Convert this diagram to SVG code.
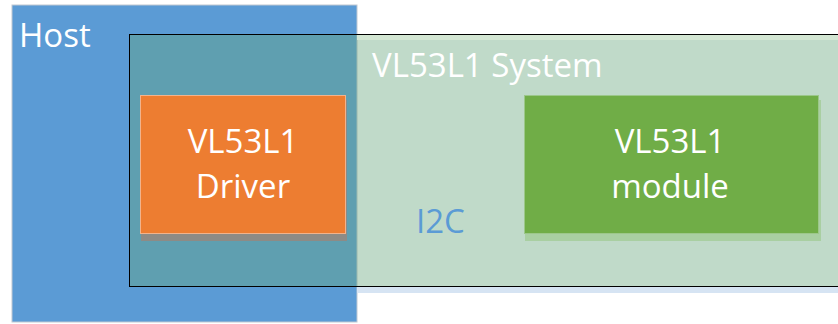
<svg xmlns="http://www.w3.org/2000/svg" width="838" height="324" viewBox="0 0 838 324">
<style>
.t{font-family:"Open Sans","Liberation Sans",sans-serif;fill:#fff}
.c{text-anchor:middle;font-size:33px}
</style>
<rect width="838" height="324" fill="#fff"/>
<g id="host">
<rect x="12" y="5" width="345" height="317" fill="#5B9BD5" stroke="#BFC8D2" stroke-width="1"/>
<text class="t" x="19" y="47" font-size="33">Host</text>
</g>
<g id="system">
<rect x="357" y="287" width="481" height="6" fill="#D6E4F3"/>
<rect x="129.5" y="34.5" width="710" height="252" fill="rgb(101,165,123)" fill-opacity="0.41" stroke="#000" stroke-width="1"/>
<rect x="357" y="35" width="481" height="5" fill="#D3E6D3"/>
<text class="t" x="372" y="77" font-size="33">VL53L1 System</text>
</g>
<g id="driver">
<rect x="141" y="100" width="206" height="141" fill="#8D8B86"/>
<rect x="140.5" y="95.5" width="205" height="138" fill="#ED7D31" stroke="#F2B38C" stroke-width="1"/>
<text class="t c" x="243" y="153">VL53L1</text>
<text class="t c" x="243" y="198">Driver</text>
</g>
<g id="module">
<rect x="525" y="100" width="296" height="141" fill="#A9CFA2"/>
<rect x="524.5" y="95.5" width="294" height="138" fill="#70AD47" stroke="#9CC78A" stroke-width="1"/>
<text class="t c" x="670" y="153">VL53L1</text>
<text class="t c" x="670" y="198">module</text>
</g>
<g id="connectors">
<text x="416" y="233" font-family="Open Sans, Liberation Sans, sans-serif" font-size="33" fill="#5B9BD5">I2C</text>
</g>
</svg>
